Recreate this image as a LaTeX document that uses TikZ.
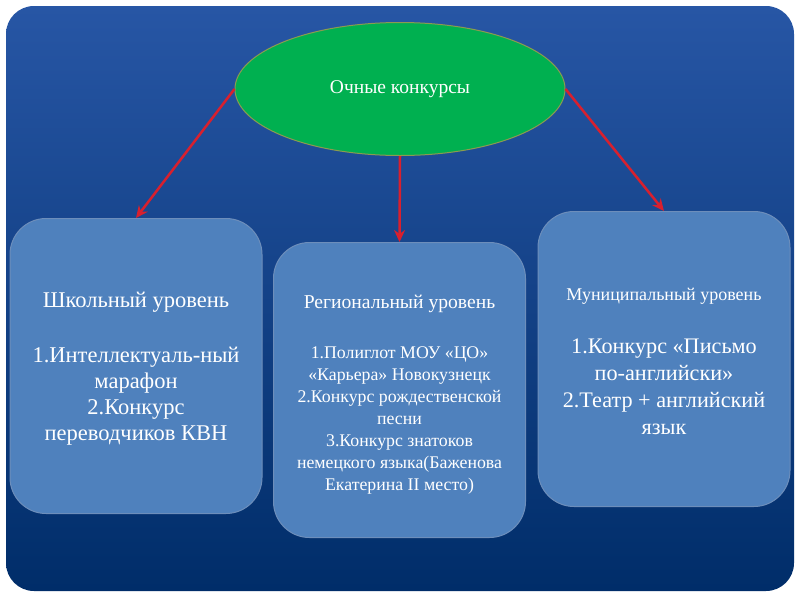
\documentclass[tikz,border=0pt]{standalone}
\usepackage{fontspec}
\setmainfont{Liberation Serif}
\usetikzlibrary{shapes.geometric,arrows.meta}
\definecolor{bgtop}{HTML}{2756A5}
\definecolor{bgbot}{HTML}{002D69}
\definecolor{boxfill}{HTML}{4F81BD}
\definecolor{boxline}{HTML}{6D8EBB}
\definecolor{ellfill}{HTML}{00B050}
\definecolor{ellline}{HTML}{8C9A50}
\definecolor{arr}{HTML}{D8202E}
\begin{document}
\begin{tikzpicture}[x=1pt,y=-1pt,
  level/.style={draw=boxline, line width=1pt, fill=boxfill, rounded corners=36pt,
    minimum width=252pt, minimum height=295pt, inner sep=0pt},
  label/.style={text=white, align=center, inner sep=0pt},
  conn/.style={draw=arr, line width=2.5pt, -{Stealth[length=12pt,width=11pt]}}]
\useasboundingbox (0,0) rectangle (800,600);
\fill[white] (0,0) rectangle (800,600);
\shade[top color=bgtop, bottom color=bgbot, rounded corners=28pt] (6,6) rectangle (794,591);
\node[ellipse, draw=ellline, line width=1pt, fill=ellfill, minimum width=330pt, minimum height=133pt,
  inner sep=0pt, text=white, font=\fontsize{19.5}{23}\selectfont] (top) at (400,89) {Очные конкурсы};
\node[level] (school) at (136,366) {};
\node[level] (region) at (399.5,390) {};
\node[level] (muni) at (664,359) {};
\node[label, font=\fontsize{22.5}{26}\selectfont] (schooltext) at (136,369)
  {Школьный уровень\\[29pt]
   1.Интеллектуаль-ный\\марафон\\2.Конкурс\\переводчиков КВН};
\node[label, font=\fontsize{17.8}{22}\selectfont] (regiontext) at (399.5,395)
  {{\fontsize{19.6}{22}\selectfont Региональный уровень}\\[28pt]
   1.Полиглот МОУ «ЦО»\\«Карьера» Новокузнецк\\2.Конкурс рождественской\\песни\\
   3.Конкурс знатоков\\немецкого языка(Баженова\\Екатерина II место)};
\node[label, font=\fontsize{22.2}{27}\selectfont] (munitext) at (664,361)
  {{\fontsize{18}{20}\selectfont Муниципальный уровень}\\[26pt]
   1.Конкурс «Письмо\\по-английски»\\2.Театр + английский\\язык};
\draw[conn] (top.west) -- (school.north);
\draw[conn] (top.south) -- (region.north);
\draw[conn] (top.east) -- (muni.north);
\end{tikzpicture}
\end{document}
